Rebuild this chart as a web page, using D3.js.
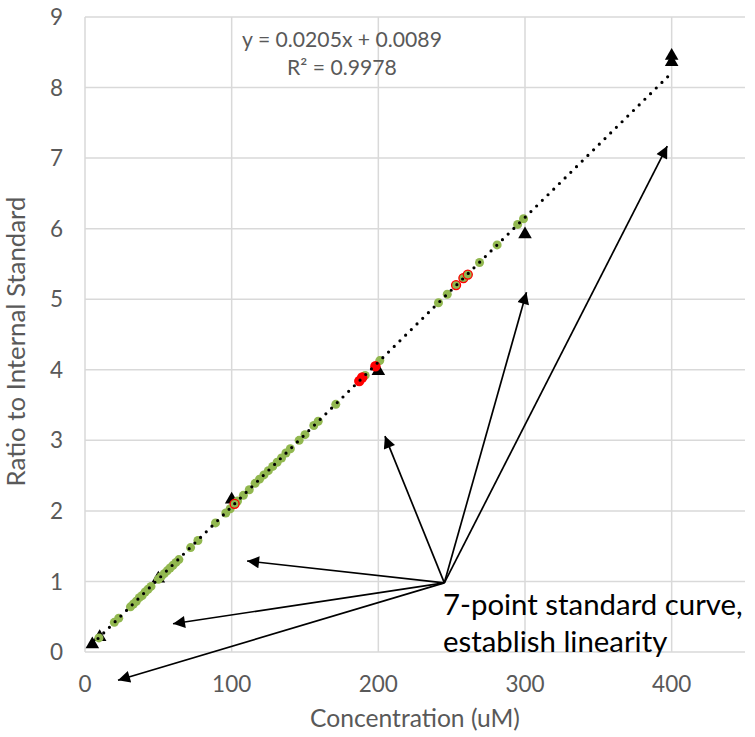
<!DOCTYPE html>
<html>
<head>
<meta charset="utf-8">
<script src="https://cdn.jsdelivr.net/npm/d3@7"></script>
<style>
  body { margin: 0; background: #fff; }
  text { font-family: Lato, "Open Sans", sans-serif; }
</style>
</head>
<body>
<script>
let width = 755;
let height = 737;

// samples on the curve (green), QC samples (red), 7-point standards (triangles)
let sampleX = [9.5, 20, 23, 31, 33, 35, 37, 39, 41, 43, 45, 50, 52, 54, 56, 58, 60, 62, 64,
               72, 77, 89, 96, 99, 104, 108, 112, 116, 119, 122, 125, 128, 131, 134, 137, 140,
               146, 150, 156, 159, 171, 191, 201, 241, 247, 258, 269, 281, 295, 299];
let sampleY = [0.20, 0.42, 0.48, 0.64, 0.68, 0.72, 0.77, 0.80, 0.85, 0.89, 0.93, 1.03, 1.07, 1.11, 1.15, 1.19, 1.23, 1.27, 1.31,
               1.48, 1.58, 1.83, 1.97, 2.03, 2.14, 2.22, 2.30, 2.39, 2.45, 2.51, 2.57, 2.63, 2.69, 2.75, 2.82, 2.88,
               3.00, 3.08, 3.21, 3.27, 3.51, 3.92, 4.13, 4.95, 5.07, 5.30, 5.52, 5.77, 6.06, 6.14];
let qcFilledX = [187, 189, 198];
let qcFilledY = [3.84, 3.89, 4.05];
let qcRingX = [102, 253, 258, 261];
let qcRingY = [2.10, 5.20, 5.30, 5.35];
let stdX = [5, 10, 50, 100, 200, 300, 400, 400];
let stdY = [0.11, 0.21, 1.04, 2.16, 3.98, 5.92, 8.36, 8.45];

let slope = 0.0205, intercept = 0.0089;
let fitRange = [5, 400];
let eqLines = ["y = 0.0205x + 0.0089", "R\u00b2 = 0.9978"];

let xTicks = [0, 100, 200, 300, 400];
let yTicks = [0, 1, 2, 3, 4, 5, 6, 7, 8, 9];

// annotation: arrows from one point to the standards
let arrowFrom = [245, 0.98];
let arrowToX = [22.5, 60, 110.5, 204.5, 301, 397];
let arrowToY = [-0.40, 0.40, 1.29, 3.06, 5.10, 7.17];
let noteLines = ["7-point standard curve,", "establish linearity"];

let svg = d3.select("body").append("svg")
            .attr("width", width)
            .attr("height", height);

let x = d3.scaleLinear().domain([0, 450]).range([85, 745]);
let y = d3.scaleLinear().domain([0, 9]).range([652, 17]);

// scale a text selection's font so its first node has the wanted width
function fitWidth(sel, size, target) {
  sel.attr("font-size", size);
  let w = sel.nodes()[0].getComputedTextLength();
  sel.attr("font-size", size * target / w);
}

// grid
svg.append("g").selectAll("line").data(yTicks).enter().append("line")
   .attr("x1", x(0)).attr("x2", x(450))
   .attr("y1", d => y(d)).attr("y2", d => y(d))
   .attr("stroke", "#d9d9d9").attr("stroke-width", 1.5);
svg.append("g").selectAll("line").data(xTicks).enter().append("line")
   .attr("x1", d => x(d)).attr("x2", d => x(d))
   .attr("y1", y(0)).attr("y2", y(9))
   .attr("stroke", "#d9d9d9").attr("stroke-width", 1.5);

// tick labels
svg.append("g").selectAll("text").data(yTicks).enter().append("text")
   .attr("x", 63).attr("y", d => y(d)).attr("dy", "0.36em")
   .attr("text-anchor", "end").attr("fill", "#595959").attr("font-size", 22.5)
   .text(d => d);
let xLabels = svg.append("g").selectAll("text").data(xTicks).enter().append("text")
   .attr("x", d => x(d)).attr("y", 692)
   .attr("text-anchor", "middle").attr("fill", "#595959").attr("font-size", 22.5)
   .text(d => d);

// axis titles
let xTitle = svg.append("text")
   .attr("x", x(225)).attr("y", 727)
   .attr("text-anchor", "middle").attr("fill", "#595959")
   .text("Concentration (uM)");
fitWidth(xTitle, 20, 210);
let yTitle = svg.append("text")
   .attr("transform", "translate(25," + y(4.4) + ") rotate(-90)")
   .attr("text-anchor", "middle").attr("fill", "#595959")
   .text("Ratio to Internal Standard");
fitWidth(yTitle, 20, 290);

// standards
let tri = d3.symbol().type(d3.symbolTriangle).size(80);
svg.append("g").selectAll("path").data(d3.range(stdX.length)).enter().append("path")
   .attr("d", tri)
   .attr("transform", i => "translate(" + x(stdX[i]) + "," + y(stdY[i]) + ")")
   .attr("fill", "black");

// samples
svg.append("g").selectAll("circle").data(d3.range(sampleX.length)).enter().append("circle")
   .attr("cx", i => x(sampleX[i])).attr("cy", i => y(sampleY[i]))
   .attr("r", 4.5)
   .attr("fill", "#92b850");

// QC samples
svg.append("g").selectAll("circle").data(d3.range(qcRingX.length)).enter().append("circle")
   .attr("cx", i => x(qcRingX[i])).attr("cy", i => y(qcRingY[i]))
   .attr("r", 4.5)
   .attr("fill", "#92b850").attr("stroke", "#ff0000").attr("stroke-width", 1.3);
svg.append("g").selectAll("circle").data(d3.range(qcFilledX.length)).enter().append("circle")
   .attr("cx", i => x(qcFilledX[i])).attr("cy", i => y(qcFilledY[i]))
   .attr("r", 5.2)
   .attr("fill", "#ff0000");

// trendline
svg.append("line")
   .attr("x1", x(fitRange[0])).attr("y1", y(slope * fitRange[0] + intercept))
   .attr("x2", x(fitRange[1])).attr("y2", y(slope * fitRange[1] + intercept))
   .attr("stroke", "black").attr("stroke-width", 3.2)
   .attr("stroke-linecap", "round").attr("stroke-dasharray", "0 8");

// equation
let eq = svg.append("g").selectAll("text").data(eqLines).enter().append("text")
   .attr("x", 342).attr("y", (d, i) => 47 + i * 28)
   .attr("text-anchor", "middle").attr("fill", "#595959")
   .text(d => d);
fitWidth(eq, 17, 200);

// arrows
let defs = svg.append("defs");
defs.append("marker")
    .attr("id", "arrow")
    .attr("viewBox", "0 -5 10 10")
    .attr("refX", 10)
    .attr("refY", 0)
    .attr("markerUnits", "userSpaceOnUse")
    .attr("markerWidth", 16)
    .attr("markerHeight", 12)
    .attr("orient", "auto")
  .append("path")
    .attr("d", "M0,-5L10,0L0,5Z")
    .attr("fill", "black");

svg.append("g").selectAll("line").data(d3.range(arrowToX.length)).enter().append("line")
   .attr("x1", x(arrowFrom[0])).attr("y1", y(arrowFrom[1]))
   .attr("x2", i => x(arrowToX[i])).attr("y2", i => y(arrowToY[i]))
   .attr("stroke", "black").attr("stroke-width", 1.7)
   .attr("marker-end", "url(#arrow)");

// note
let note = svg.append("g").selectAll("text").data(noteLines).enter().append("text")
   .attr("x", 443).attr("y", (d, i) => 615 + i * 37)
   .attr("fill", "black")
   .text(d => d);
fitWidth(note, 28, 300);
</script>
</body>
</html>
